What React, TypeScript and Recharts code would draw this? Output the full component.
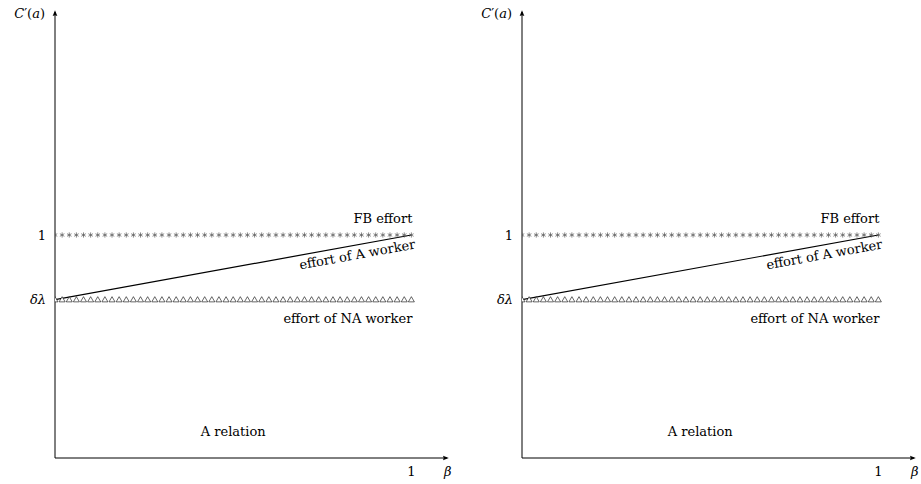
import React from 'react';
import { ComposedChart, Line, XAxis, YAxis, ReferenceDot } from 'recharts';

// sample positions of the marks along beta (one every 0.02)
const betaSamples = [
  0, 0.02, 0.04, 0.06, 0.08, 0.1, 0.12, 0.14, 0.16, 0.18,
  0.2, 0.22, 0.24, 0.26, 0.28, 0.3, 0.32, 0.34, 0.36, 0.38,
  0.4, 0.42, 0.44, 0.46, 0.48, 0.5, 0.52, 0.54, 0.56, 0.58,
  0.6, 0.62, 0.64, 0.66, 0.68, 0.7, 0.72, 0.74, 0.76, 0.78,
  0.8, 0.82, 0.84, 0.86, 0.88, 0.9, 0.92, 0.94, 0.96, 0.98, 1,
];
const fbLevel = 1;
const deltaLambda = 0.71;
const aWorkerBeta = [0, 1];
const aWorkerEffort = [0.71, 1];
const xTicks = [1];
const xTickLabels = ['1'];
const yTicks = [0.71, 1];
const yTickLabels = ['δλ', '1'];
const panels = ['left', 'right'];

const FONT = '"DejaVu Serif", serif';
const CHART_W = 454;
const CHART_H = 484;
const X_MAX = 1.1;
const Y_MAX = 2;

const markTable = betaSamples.map((b) => ({ beta: b, fb: fbLevel, na: deltaLambda }));
const aWorkerTable = aWorkerBeta.map((b, i) => ({ beta: b, a: aWorkerEffort[i] }));

// slope angle of the A worker line in pixels (plot is 392 x 446)
const plotW = 392;
const plotH = 446;
const slopeDeg =
  (-Math.atan(((aWorkerEffort[1] - aWorkerEffort[0]) * plotH) / Y_MAX / ((aWorkerBeta[1] - aWorkerBeta[0]) * plotW / X_MAX)) * 180) /
  Math.PI;

const StarMark = (props: any) => {
  const { cx, cy, index } = props;
  if (cx == null || cy == null) return <g key={index} />;
  const r = 2.6;
  const arms = [90, 30, 150].map((deg) => {
    const t = (deg * Math.PI) / 180;
    return (
      <line
        key={deg}
        x1={cx - r * Math.cos(t)}
        y1={cy - r * Math.sin(t)}
        x2={cx + r * Math.cos(t)}
        y2={cy + r * Math.sin(t)}
        stroke="#555"
        strokeWidth={0.7}
      />
    );
  });
  return <g key={index}>{arms}</g>;
};

const TriangleMark = (props: any) => {
  const { cx, cy, index } = props;
  if (cx == null || cy == null) return <g key={index} />;
  return (
    <polygon
      key={index}
      points={`${cx},${cy - 3} ${cx - 3},${cy + 2.2} ${cx + 3},${cy + 2.2}`}
      fill="#fff"
      stroke="#000"
      strokeWidth={0.6}
    />
  );
};

const YTick = (props: any) => {
  const { x, y, payload } = props;
  const i = yTicks.indexOf(payload.value);
  const label = yTickLabels[i];
  return (
    <text x={x} y={y} dy="0.35em" textAnchor="end" fontFamily={FONT} fontSize={13} fill="#000"
      fontStyle={label === '1' ? 'normal' : 'italic'}>
      {label}
    </text>
  );
};

const XTick = (props: any) => {
  const { x, y, payload } = props;
  const label = xTickLabels[xTicks.indexOf(payload.value)];
  return (
    <text x={x} y={y} dy="0.71em" textAnchor="middle" fontFamily={FONT} fontSize={13} fill="#000">
      {label}
    </text>
  );
};

function Panel() {
  return (
    <ComposedChart width={CHART_W} height={CHART_H} data={markTable}
      margin={{ top: 12, right: CHART_W - 55 - plotW, bottom: 0, left: 0 }}>
      <XAxis type="number" dataKey="beta" domain={[0, X_MAX]} ticks={xTicks} allowDataOverflow
        height={26} tickLine={false} tickSize={0} tickMargin={9} tick={<XTick />}
        axisLine={{ stroke: '#000', strokeWidth: 1, markerEnd: 'url(#axisArrow)' }} />
      <YAxis type="number" domain={[0, Y_MAX]} ticks={yTicks} allowDataOverflow width={55}
        tickLine={false} tickSize={0} tickMargin={9} tick={<YTick />}
        axisLine={{ stroke: '#000', strokeWidth: 1, markerStart: 'url(#axisArrow)' }} />
      <Line dataKey="na" stroke="none" isAnimationActive={false} dot={TriangleMark} activeDot={false} />
      <Line dataKey="fb" stroke="none" isAnimationActive={false} dot={StarMark} activeDot={false} />
      <Line data={aWorkerTable} dataKey="a" type="linear" stroke="#000" strokeWidth={1.2}
        dot={false} activeDot={false} isAnimationActive={false} />
      <ReferenceDot x={1} y={fbLevel} r={0} ifOverflow="visible" shape={(p: any) => (
        <text x={p.cx + 1} y={p.cy - 12} textAnchor="end" fontFamily={FONT} fontSize={13} fill="#000">FB effort</text>
      )} />
      <ReferenceDot x={1} y={deltaLambda} r={0} ifOverflow="visible" shape={(p: any) => (
        <text x={p.cx + 1} y={p.cy + 23} textAnchor="end" fontFamily={FONT} fontSize={13} fill="#000">effort of NA worker</text>
      )} />
      <ReferenceDot x={1} y={fbLevel} r={0} ifOverflow="visible" shape={(p: any) => (
        <text x={p.cx + 2} y={p.cy} dy={14} textAnchor="end" fontFamily={FONT} fontSize={13} fill="#000"
          transform={`rotate(${slopeDeg} ${p.cx} ${p.cy})`}>effort of A worker</text>
      )} />
      <ReferenceDot x={0.5} y={0.1} r={0} ifOverflow="visible" shape={(p: any) => (
        <text x={p.cx} y={p.cy} textAnchor="middle" fontFamily={FONT} fontSize={13} fill="#000">A relation</text>
      )} />
      <ReferenceDot x={0} y={Y_MAX} r={0} ifOverflow="visible" shape={(p: any) => (
        <text x={p.cx - 10} y={p.cy + 6} textAnchor="end" fontFamily={FONT} fontSize={13} fill="#000">
          <tspan fontStyle="italic">C</tspan>′(<tspan fontStyle="italic">a</tspan>)
        </text>
      )} />
      <ReferenceDot x={X_MAX} y={0} r={0} ifOverflow="visible" shape={(p: any) => (
        <text x={p.cx - 3} y={p.cy + 18} textAnchor="start" fontFamily={FONT} fontSize={13} fontStyle="italic" fill="#000">β</text>
      )} />
    </ComposedChart>
  );
}

export default function App() {
  return (
    <div style={{ position: 'absolute', left: 0, top: 0, width: 921, height: 484, overflow: 'hidden', background: '#fff' }}>
      <svg width={0} height={0} style={{ position: 'absolute' }}>
        <defs>
          <marker id="axisArrow" viewBox="0 0 10 10" refX="7" refY="5" markerWidth="6" markerHeight="6"
            markerUnits="userSpaceOnUse" orient="auto-start-reverse">
            <path d="M0,1 L10,5 L0,9 Q3,5 0,1 z" fill="#000" />
          </marker>
        </defs>
      </svg>
      {panels.map((key, i) => (
        <div key={key} style={{ position: 'absolute', left: i * 467, top: 0 }}>
          <Panel />
        </div>
      ))}
    </div>
  );
}
